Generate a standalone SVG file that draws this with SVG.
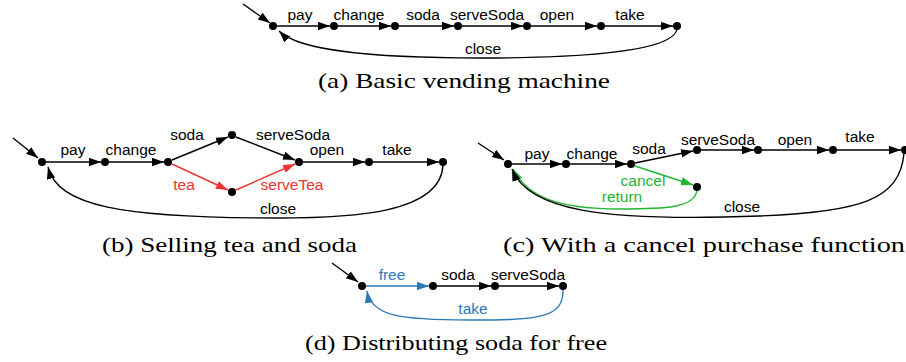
<svg xmlns="http://www.w3.org/2000/svg" width="906" height="362" viewBox="0 0 906 362">
<defs>
<style>
.e{fill:none;stroke:#000;stroke-width:1.4}
.ea{fill:none;stroke:#000;stroke-width:1.4;marker-end:url(#ak)}
.er{fill:none;stroke:#ee3333;stroke-width:1.4;marker-end:url(#ar)}
.eg{fill:none;stroke:#22b534;stroke-width:1.4;marker-end:url(#ag)}
.eb{fill:none;stroke:#2a7ab8;stroke-width:1.4;marker-end:url(#ab)}
.n{fill:#000}
.l{font-family:"Liberation Sans",Arial,Helvetica,sans-serif;font-size:15.5px;fill:#000;text-anchor:middle}
.r{fill:#ee3333}
.g{fill:#22b534}
.b{fill:#2a7ab8}
.c{font-family:"Liberation Serif","Times New Roman",serif;font-size:22px;fill:#000}
</style>
<marker id="ak" markerUnits="userSpaceOnUse" markerWidth="13" markerHeight="10" refX="12" refY="4.5" orient="auto"><path d="M0,0.3 L12,4.5 L0,8.7 z" fill="#000"/></marker>
<marker id="ar" markerUnits="userSpaceOnUse" markerWidth="13" markerHeight="10" refX="12" refY="4.5" orient="auto"><path d="M0,0.3 L12,4.5 L0,8.7 z" fill="#ee3333"/></marker>
<marker id="ag" markerUnits="userSpaceOnUse" markerWidth="13" markerHeight="10" refX="12" refY="4.5" orient="auto"><path d="M0,0.3 L12,4.5 L0,8.7 z" fill="#22b534"/></marker>
<marker id="ab" markerUnits="userSpaceOnUse" markerWidth="13" markerHeight="10" refX="12" refY="4.5" orient="auto"><path d="M0,0.3 L12,4.5 L0,8.7 z" fill="#2a7ab8"/></marker>
</defs>
<rect width="906" height="362" fill="#fff"/>

<!-- (a) -->
<g id="connectors-a">
<path class="ea" d="M243,4 L270,23"/>
<path class="ea" d="M277,26 L330,26"/>
<path class="ea" d="M338,26 L391,26"/>
<path class="ea" d="M399,26 L454,26"/>
<path class="ea" d="M462,26 L523,26"/>
<path class="ea" d="M531,26 L597,26"/>
<path class="ea" d="M605,26 L673,26"/>
<path class="ea" d="M677,29 C673,54 560,58 480,58 C380,58 300,52 279,31"/>
</g>
<g id="a-n1"><circle class="n" cx="273" cy="26" r="4"/></g>
<g id="a-n2"><circle class="n" cx="334" cy="26" r="4"/></g>
<g id="a-n3"><circle class="n" cx="395" cy="26" r="4"/></g>
<g id="a-n4"><circle class="n" cx="458" cy="26" r="4"/></g>
<g id="a-n5"><circle class="n" cx="527" cy="26" r="4"/></g>
<g id="a-n6"><circle class="n" cx="601" cy="26" r="4"/></g>
<g id="a-n7"><circle class="n" cx="677" cy="26" r="4"/></g>
<g id="a-labels">
<text class="l" x="300" y="20">pay</text>
<text class="l" x="359" y="20">change</text>
<text class="l" x="423" y="20">soda</text>
<text class="l" x="487" y="20">serveSoda</text>
<text class="l" x="557" y="20">open</text>
<text class="l" x="630" y="20">take</text>
<text class="l" x="483" y="54">close</text>
</g>
<text class="c" x="318" y="88" textLength="292" lengthAdjust="spacingAndGlyphs">(a) Basic vending machine</text>

<!-- (b) -->
<g id="connectors-b">
<path class="ea" d="M13,138 L38,158"/>
<path class="ea" d="M46,162 L101,162"/>
<path class="ea" d="M109,162 L164,162"/>
<path class="ea" d="M172,160 L228,137"/>
<path class="ea" d="M236,137 L295,160"/>
<path class="er" d="M172,164 L228,190"/>
<path class="er" d="M236,190 L295,164"/>
<path class="ea" d="M303,162 L365,162"/>
<path class="ea" d="M373,162 L439,162"/>
<path class="ea" d="M443,165 C441,214 350,218 278,218 C120,218 58,206 48,167"/>
</g>
<g id="b-n1"><circle class="n" cx="42" cy="162" r="4"/></g>
<g id="b-n2"><circle class="n" cx="105" cy="162" r="4"/></g>
<g id="b-n3"><circle class="n" cx="168" cy="162" r="4"/></g>
<g id="b-n4"><circle class="n" cx="232" cy="135" r="4"/></g>
<g id="b-n4t"><circle class="n" cx="232" cy="192" r="4"/></g>
<g id="b-n5"><circle class="n" cx="299" cy="162" r="4"/></g>
<g id="b-n6"><circle class="n" cx="369" cy="162" r="4"/></g>
<g id="b-n7"><circle class="n" cx="443" cy="162" r="4"/></g>
<g id="b-labels">
<text class="l" x="73" y="155">pay</text>
<text class="l" x="131" y="155">change</text>
<text class="l" x="187" y="140">soda</text>
<text class="l" x="293" y="140">serveSoda</text>
<text class="l" x="327" y="155">open</text>
<text class="l" x="397" y="155">take</text>
<text class="l r" x="184" y="190">tea</text>
<text class="l r" x="292" y="190">serveTea</text>
<text class="l" x="278" y="214">close</text>
</g>
<text class="c" x="102" y="252" textLength="255" lengthAdjust="spacingAndGlyphs">(b) Selling tea and soda</text>

<!-- (c) -->
<g id="connectors-c">
<path class="ea" d="M478,143 L504,160"/>
<path class="ea" d="M512,164 L562,164"/>
<path class="ea" d="M570,164 L627,164"/>
<path class="ea" d="M635,163 L693,151"/>
<path class="ea" d="M701,150 L754,150"/>
<path class="ea" d="M762,150 L829,150"/>
<path class="ea" d="M837,150 L901,150"/>
<path class="eg" d="M635,166 L693,185"/>
<path class="eg" d="M697,190 C695,208 665,209 620,209 C560,209 528,198 513,169"/>
<path class="ea" d="M904,153 C900,200 860,212 760,216 C600,222 528,210 512,169"/>
</g>
<g id="c-n1"><circle class="n" cx="508" cy="164" r="4"/></g>
<g id="c-n2"><circle class="n" cx="566" cy="164" r="4"/></g>
<g id="c-n3"><circle class="n" cx="631" cy="164" r="4"/></g>
<g id="c-n4"><circle class="n" cx="697" cy="150" r="4"/></g>
<g id="c-n5"><circle class="n" cx="758" cy="150" r="4"/></g>
<g id="c-n6"><circle class="n" cx="833" cy="150" r="4"/></g>
<g id="c-n7"><circle class="n" cx="905" cy="150" r="4"/></g>
<g id="c-nc"><circle class="n" cx="697" cy="187" r="4"/></g>
<g id="c-labels">
<text class="l" x="537" y="159">pay</text>
<text class="l" x="592" y="159">change</text>
<text class="l" x="649" y="154">soda</text>
<text class="l" x="718" y="145">serveSoda</text>
<text class="l" x="795" y="145">open</text>
<text class="l" x="860" y="142">take</text>
<text class="l g" x="643" y="186">cancel</text>
<text class="l g" x="622" y="202">return</text>
<text class="l" x="742" y="212">close</text>
</g>
<text class="c" x="503" y="252" textLength="402" lengthAdjust="spacingAndGlyphs">(c) With a cancel purchase function</text>

<!-- (d) -->
<g id="connectors-d">
<path class="ea" d="M332,263 L358,282"/>
<path class="eb" d="M366,286 L429,286"/>
<path class="ea" d="M437,286 L491,286"/>
<path class="ea" d="M499,286 L559,286"/>
<path class="eb" d="M563,289 C564,318 540,320 470,320 C400,320 371,316 367,291"/>
</g>
<g id="d-n1"><circle class="n" cx="362" cy="286" r="4"/></g>
<g id="d-n2"><circle class="n" cx="433" cy="286" r="4"/></g>
<g id="d-n3"><circle class="n" cx="495" cy="286" r="4"/></g>
<g id="d-n4"><circle class="n" cx="563" cy="286" r="4"/></g>
<g id="d-labels">
<text class="l b" x="392" y="280">free</text>
<text class="l" x="458" y="280">soda</text>
<text class="l" x="528" y="280">serveSoda</text>
<text class="l b" x="473" y="314">take</text>
</g>
<text class="c" x="305" y="350" textLength="302" lengthAdjust="spacingAndGlyphs">(d) Distributing soda for free</text>
</svg>
